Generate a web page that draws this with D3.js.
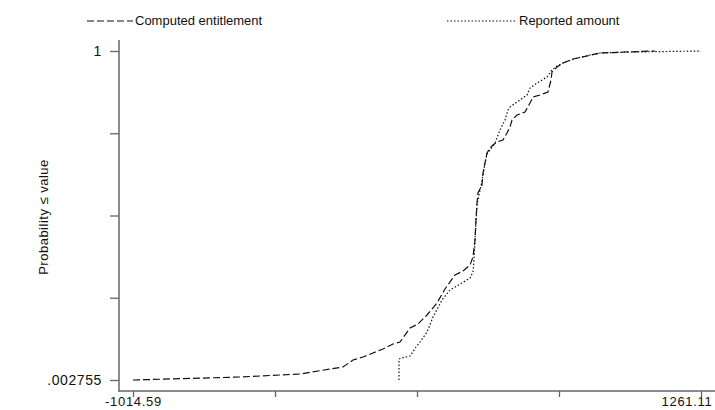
<!DOCTYPE html>
<html>
<head>
<meta charset="utf-8">
<script src="https://cdn.jsdelivr.net/npm/d3@7"></script>
<style>
  body { margin: 0; background: #fff; }
  svg text { font-family: "Liberation Sans", Arial, sans-serif; fill: #111; }
</style>
</head>
<body>
<svg id="chart" width="715" height="410"></svg>
<script>
// series labels
const seriesNames = ["Computed entitlement", "Reported amount"];

// Computed entitlement: value / cumulative probability
const computedValue = [-1014.59, -585.9, -345.5, -225.3, -173.2, -133.2, -93.1, -53.0, -13.0, 27.1,
  55.1, 95.2, 127.3, 163.3, 203.4, 235.4, 275.5, 307.5, 335.6, 347.6,
  355.6, 359.6, 363.6, 367.6, 383.7, 387.7, 395.7, 403.7, 415.7, 427.7,
  443.8, 467.8, 483.8, 495.9, 503.9, 523.9, 556.0, 576.0, 588.0, 616.1,
  648.1, 660.1, 664.1, 684.2, 708.2, 748.3, 804.4, 856.5, 956.7, 1076.8];
const computedProb = [0.002755, 0.0118, 0.0209, 0.0361, 0.0422, 0.0634, 0.0725, 0.0846, 0.0967, 0.1119,
  0.1179, 0.1604, 0.1725, 0.1998, 0.2362, 0.2786, 0.3210, 0.3332, 0.3513, 0.3756,
  0.4271, 0.4877, 0.5393, 0.5696, 0.5938, 0.6302, 0.6605, 0.6908, 0.7060, 0.7151,
  0.7242, 0.7302, 0.7514, 0.7696, 0.7908, 0.8060, 0.8151, 0.8424, 0.8606, 0.8666,
  0.8757, 0.9121, 0.9363, 0.9515, 0.9636, 0.9757, 0.9848, 0.9939, 0.9969, 1.0];

// Reported amount
const reportedValue = [51.1, 51.1, 63.2, 95.2, 119.2, 135.3, 163.3, 187.4, 223.4, 255.5,
  303.5, 335.6, 347.6, 351.6, 355.6, 359.6, 363.6, 371.6, 379.7, 387.7,
  395.7, 403.7, 415.7, 435.8, 455.8, 475.8, 487.9, 495.9, 523.9, 564.0,
  576.0, 604.1, 644.1, 664.1, 684.2, 716.3, 764.3, 816.4, 856.5, 976.7, 1261.11];
const reportedProb = [0.002755, 0.0664, 0.0694, 0.0755, 0.1028, 0.1179, 0.1482, 0.1937, 0.2452, 0.2756,
  0.2968, 0.3119, 0.3301, 0.3665, 0.4271, 0.4817, 0.5332, 0.5635, 0.5908, 0.6241,
  0.6605, 0.6878, 0.6999, 0.7211, 0.7605, 0.7908, 0.8212, 0.8302, 0.8454, 0.8666,
  0.8878, 0.9030, 0.9212, 0.9424, 0.9545, 0.9666, 0.9787, 0.9878, 0.9939, 0.9969, 1.0];

// axis ticks (only the ends are labelled)
const xTicks = [-1014.59, -445.665, 123.26, 692.185, 1261.11];
const xTickLabels = ["-1014.59", "", "", "", "1261.11"];
const yTicks = [0.002755, 0.25206, 0.50138, 0.75069, 1];
const yTickLabels = [".002755", "", "", "", "1"];

const svg = d3.select("#chart");

const x = d3.scaleLinear().domain([xTicks[0], xTicks[4]]).range([133, 701]);
const y = d3.scaleLinear().domain([yTicks[0], yTicks[4]]).range([380, 51]);

const axisColor = "#666";

// x axis
const gx = svg.append("g")
  .attr("transform", "translate(0,391)")
  .call(d3.axisBottom(x).tickValues(xTicks).tickSize(6).tickPadding(0)
    .tickFormat((d, i) => xTickLabels[i]));
gx.select(".domain").remove();
gx.selectAll(".tick line").attr("stroke", axisColor).attr("stroke-width", 1.3);
gx.selectAll(".tick text").style("font-size", "13px").style("letter-spacing", "0.7px").attr("fill", "#111");
gx.selectAll(".tick text").filter((d, i) => i === 4).attr("text-anchor", "end").attr("dx", "11");
gx.append("line").attr("x1", 119).attr("x2", 715)
  .attr("stroke", axisColor).attr("stroke-width", 1.5);

// y axis
const gy = svg.append("g")
  .attr("transform", "translate(119,0)")
  .call(d3.axisLeft(y).tickValues(yTicks).tickSize(9).tickPadding(8)
    .tickFormat((d, i) => yTickLabels[i]));
gy.select(".domain").remove();
gy.selectAll(".tick line").attr("stroke", axisColor).attr("stroke-width", 1.3);
gy.selectAll(".tick text").style("font-size", "14px").style("letter-spacing", "0.6px").attr("fill", "#111");
gy.append("line").attr("y1", 40).attr("y2", 392)
  .attr("stroke", axisColor).attr("stroke-width", 1.5);

svg.append("text")
  .attr("transform", "translate(48,217) rotate(-90)")
  .attr("text-anchor", "middle")
  .style("font-size", "13px")
  .style("letter-spacing", "0.5px")
  .text("Probability \u2264 value");

// curves
const line = d3.line().x(d => x(d[0])).y(d => y(d[1]));
const computed = computedValue.map((v, i) => [v, computedProb[i]]);
const reported = reportedValue.map((v, i) => [v, reportedProb[i]]);

svg.append("path").datum(reported)
  .attr("fill", "none").attr("stroke", "#111").attr("stroke-width", 1.2)
  .attr("stroke-dasharray", "1.5,2")
  .attr("d", line);

svg.append("path").datum(computed)
  .attr("fill", "none").attr("stroke", "#111").attr("stroke-width", 1.2)
  .attr("stroke-dasharray", "7,3")
  .attr("d", line);

// legend
const legend = [
  { name: seriesNames[0], dash: "7,3", x0: 87, x1: 133 },
  { name: seriesNames[1], dash: "1.5,2", x0: 447, x1: 517 }
];
legend.forEach(l => {
  svg.append("line").attr("x1", l.x0).attr("x2", l.x1).attr("y1", 21).attr("y2", 21)
    .attr("stroke", "#111").attr("stroke-width", 1.1).attr("stroke-dasharray", l.dash);
  svg.append("text").attr("x", l.x1 + 2).attr("y", 25)
    .style("font-size", "13px").text(l.name);
});
</script>
</body>
</html>
